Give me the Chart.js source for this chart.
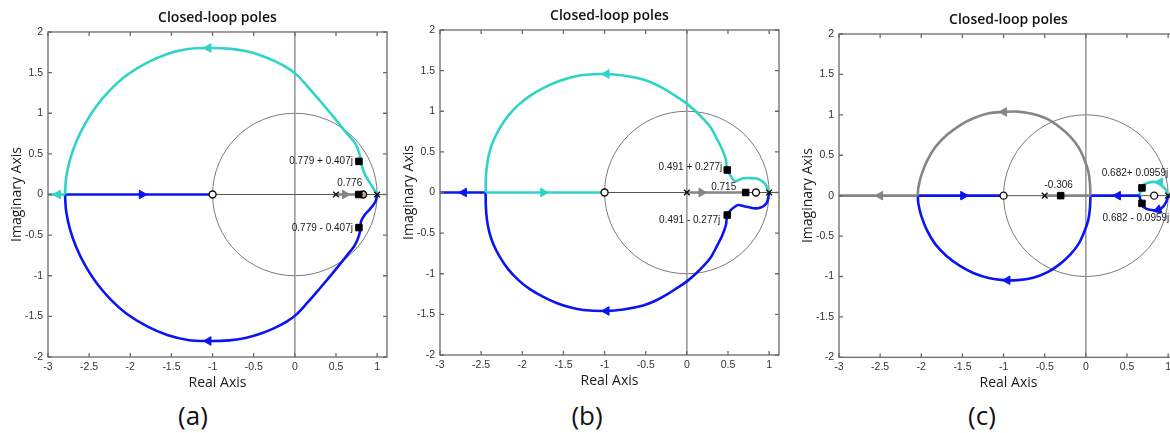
<!DOCTYPE html>
<html>
<head>
<meta charset="utf-8">
<script src="https://cdn.jsdelivr.net/npm/chart.js@4.4.0/dist/chart.umd.min.js"></script>
<style>
  html, body { margin: 0; padding: 0; background: #fff; overflow: hidden; }
  body { width: 1170px; height: 433px; position: relative; }
  canvas { position: absolute; }
  .caption { position: absolute; font-family: 'Open Sans', sans-serif; font-size: 26px; line-height: 1; color: #111; transform: translate(-50%, -50%); }
</style>
</head>
<body>
<canvas id="rl-a" width="395" height="395" style="left:0px;top:0px"></canvas>
<canvas id="rl-b" width="395" height="395" style="left:392px;top:-2px"></canvas>
<canvas id="rl-c" width="395" height="395" style="left:791px;top:2px"></canvas>
<div class="caption" style="left:193px;top:415px">(a)</div>
<div class="caption" style="left:587px;top:415px">(b)</div>
<div class="caption" style="left:982px;top:415px">(c)</div>
<script>
/* global Chart */

const realTicks = [-3, -2.5, -2, -1.5, -1, -0.5, 0, 0.5, 1]
const imagTicks = [-2, -1.5, -1, -0.5, 0, 0.5, 1, 1.5, 2]

// (a) locus branches as [real, imag]
const aCyanArc = [[1, 0], [0.918, 0.134], [0.845, 0.26], [0.805, 0.39], [0.785, 0.5], [0.74, 0.62], [0.634, 0.749], [0.47, 0.955], [0.3, 1.16], [0.15, 1.335], [0.02, 1.475], [-0.1, 1.565], [-0.25, 1.645], [-0.42, 1.715], [-0.6, 1.765], [-0.8, 1.795], [-1.05, 1.803], [-1.3, 1.79], [-1.55, 1.73], [-1.8, 1.62], [-2.04, 1.47], [-2.24, 1.29], [-2.41, 1.09], [-2.55, 0.87], [-2.66, 0.64], [-2.735, 0.42], [-2.78, 0.2], [-2.793, 0]]
const aBlueArc = [[1, 0], [0.979, -0.09], [0.918, -0.174], [0.85, -0.25], [0.805, -0.33], [0.796, -0.44], [0.76, -0.56], [0.715, -0.646], [0.634, -0.749], [0.47, -0.955], [0.3, -1.16], [0.15, -1.335], [0.02, -1.475], [-0.1, -1.565], [-0.25, -1.645], [-0.42, -1.715], [-0.6, -1.765], [-0.8, -1.795], [-1.05, -1.803], [-1.3, -1.79], [-1.55, -1.73], [-1.8, -1.62], [-2.04, -1.47], [-2.24, -1.29], [-2.41, -1.09], [-2.55, -0.87], [-2.66, -0.64], [-2.735, -0.42], [-2.78, -0.2], [-2.793, 0]]
const aCyanReal = [[-2.793, 0], [-3, 0]]
const aBlueReal = [[-2.793, 0], [-1, 0]]
const aGrayReal = [[0.5, 0], [0.83, 0]]
// arrows as [real, imag, heading in degrees]
const aCyanArrows = [[-1.05, 1.803, 270], [-2.88, 0, 270]]
const aBlueArrows = [[-1.05, -1.803, 270], [-1.86, 0, 90]]
const aGrayArrows = [[0.61, 0, 90]]
const aPoles = [[0.5, 0], [1, 0]]
const aZeros = [[-1, 0], [0.83, 0]]
const aPicks = [[0.779, 0.407], [0.776, 0], [0.779, -0.407]]
const aNotes = ['0.779 + 0.407j', '0.776', '0.779 - 0.407j']

// (b)
const bCyanArc = [[1, 0], [0.947, 0.113], [0.87, 0.165], [0.806, 0.175], [0.684, 0.175], [0.604, 0.14], [0.57, 0.15], [0.535, 0.2], [0.491, 0.277], [0.475, 0.4], [0.43, 0.53], [0.37, 0.65], [0.29, 0.8], [0.2, 0.905], [0.117, 0.99], [-0.004, 1.097], [-0.126, 1.18], [-0.25, 1.26], [-0.389, 1.335], [-0.53, 1.39], [-0.773, 1.44], [-0.976, 1.458], [-1.26, 1.446], [-1.421, 1.413], [-1.583, 1.36], [-1.745, 1.285], [-1.907, 1.19], [-2.05, 1.075], [-2.175, 0.94], [-2.275, 0.79], [-2.35, 0.64], [-2.4, 0.49], [-2.43, 0.33], [-2.443, 0.165], [-2.445, 0]]
const bBlueArc = [[1, 0], [0.968, -0.133], [0.866, -0.194], [0.725, -0.175], [0.624, -0.154], [0.584, -0.175], [0.53, -0.22], [0.491, -0.277], [0.475, -0.4], [0.43, -0.53], [0.37, -0.65], [0.29, -0.8], [0.2, -0.905], [0.117, -0.99], [-0.004, -1.097], [-0.126, -1.18], [-0.25, -1.26], [-0.389, -1.335], [-0.53, -1.39], [-0.773, -1.44], [-0.976, -1.458], [-1.26, -1.446], [-1.421, -1.413], [-1.583, -1.36], [-1.745, -1.285], [-1.907, -1.19], [-2.05, -1.075], [-2.175, -0.94], [-2.275, -0.79], [-2.35, -0.64], [-2.4, -0.49], [-2.43, -0.33], [-2.443, -0.165], [-2.445, 0]]
const bCyanReal = [[-2.445, 0], [-1, 0]]
const bBlueReal = [[-2.445, 0], [-3, 0]]
const bGrayReal = [[0, 0], [0.715, 0]]
const bCyanArrows = [[-0.976, 1.458, 270], [-1.745, 0, 90]]
const bBlueArrows = [[-0.976, -1.458, 270], [-2.71, 0, 270]]
const bGrayArrows = [[0.178, 0, 90]]
const bPoles = [[0, 0], [1, 0]]
const bZeros = [[-1, 0], [0.84, 0]]
const bPicks = [[0.491, 0.277], [0.715, 0], [0.491, -0.277]]
const bNotes = ['0.491 + 0.277j', '0.715', '0.491 - 0.277j']

// (c)
const cGrayArc = [[0.056, 0], [0.05, 0.15], [0.03, 0.3], [-0.02, 0.45], [-0.09, 0.6], [-0.19, 0.73], [-0.32, 0.85], [-0.47, 0.95], [-0.64, 1.01], [-0.83, 1.04], [-1.0, 1.035], [-1.18, 1.02], [-1.36, 0.96], [-1.53, 0.87], [-1.69, 0.75], [-1.83, 0.6], [-1.93, 0.43], [-2.0, 0.25], [-2.035, 0.1], [-2.044, 0]]
const cBlueArc = [[0.056, 0], [0.05, -0.15], [0.03, -0.3], [-0.02, -0.45], [-0.09, -0.6], [-0.19, -0.73], [-0.32, -0.85], [-0.47, -0.95], [-0.64, -1.015], [-0.83, -1.045], [-1.0, -1.045], [-1.18, -1.02], [-1.36, -0.96], [-1.53, -0.87], [-1.69, -0.75], [-1.83, -0.6], [-1.93, -0.43], [-2.0, -0.25], [-2.035, -0.1], [-2.044, 0]]
const cGrayReal = [[-0.5, 0], [0.056, 0]]
const cGrayTail = [[-2.044, 0], [-3, 0]]
const cBlueReal = [[0.654, 0], [0.056, 0]]
const cBlueTail = [[-2.044, 0], [-1, 0]]
const cCyanLoop = [[1, 0], [0.98, 0.06], [0.939, 0.11], [0.878, 0.16], [0.82, 0.17], [0.756, 0.16], [0.695, 0.132], [0.682, 0.0959], [0.66, 0.04], [0.654, 0]]
const cBlueLoop = [[1, 0], [0.98, -0.07], [0.939, -0.137], [0.878, -0.175], [0.776, -0.175], [0.695, -0.137], [0.682, -0.0959], [0.66, -0.04], [0.654, 0]]
const cCyanArrows = [[0.9, 0.165, 270]]
const cBlueArrows = [[-0.953, -1.047, 270], [-1.49, 0, 90], [0.39, 0, 270], [0.88, -0.175, 250]]
const cGrayArrows = [[-0.994, 1.035, 270], [-2.5, 0, 270]]
const cPoles = [[-0.5, 0], [1, 0]]
const cZeros = [[-1, 0], [0.83, 0]]
const cPicks = [[0.682, 0.0959], [-0.306, 0], [0.682, -0.0959]]
const cNotes = ['0.682+ 0.0959j', '-0.306', '0.682 - 0.0959j']

const CYAN = '#2fd3c7'
const BLUE = '#0b14f2'
const GRAY = '#858585'
const NARROW = "'Liberation Sans Narrow', 'Liberation Sans', Arial, sans-serif"

Chart.defaults.font.family = "'Open Sans', sans-serif"

const xy = pts => pts.map(p => ({ x: p[0], y: p[1] }))

function branch (pts, color) {
  return { data: xy(pts), showLine: true, borderColor: color, borderWidth: 2.6, pointRadius: 0, tension: 0.35, order: 3 }
}

function arrows (pts, color) {
  return {
    data: xy(pts),
    showLine: false,
    pointStyle: 'triangle',
    pointRotation: pts.map(p => p[2]),
    pointRadius: 5,
    pointBackgroundColor: color,
    pointBorderColor: color,
    pointBorderWidth: 1,
    order: 2
  }
}

// draws the unit circle, origin axes, framed box with inward ticks and the pick labels
const rlocusFrame = {
  id: 'rlocusFrame',
  beforeDatasetsDraw (chart) {
    const { ctx, chartArea: a, scales: { x, y } } = chart
    const x0 = x.getPixelForValue(0)
    const y0 = y.getPixelForValue(0)
    ctx.save()
    ctx.beginPath()
    ctx.rect(a.left, a.top, a.width, a.height)
    ctx.clip()
    ctx.strokeStyle = '#7a7a7a'
    ctx.lineWidth = 1
    ctx.beginPath()
    ctx.ellipse(x0, y0, x.getPixelForValue(1) - x0, y0 - y.getPixelForValue(1), 0, 0, Math.PI * 2)
    ctx.stroke()
    ctx.strokeStyle = '#9a9a9a'
    ctx.lineWidth = 1.6
    ctx.beginPath()
    ctx.moveTo(x0, a.top)
    ctx.lineTo(x0, a.bottom)
    ctx.stroke()
    ctx.strokeStyle = '#555'
    ctx.lineWidth = 1
    ctx.beginPath()
    ctx.moveTo(a.left, y0)
    ctx.lineTo(a.right, y0)
    ctx.stroke()
    ctx.restore()
  },
  afterDatasetsDraw (chart, args, opts) {
    const { ctx, chartArea: a, scales: { x, y } } = chart
    ctx.save()
    ctx.strokeStyle = '#6a6a6a'
    ctx.lineWidth = 1.3
    ctx.strokeRect(a.left, a.top, a.width, a.height)
    ctx.beginPath()
    realTicks.forEach(v => {
      const px = x.getPixelForValue(v)
      ctx.moveTo(px, a.bottom); ctx.lineTo(px, a.bottom - 4)
      ctx.moveTo(px, a.top); ctx.lineTo(px, a.top + 4)
    })
    imagTicks.forEach(v => {
      const py = y.getPixelForValue(v)
      ctx.moveTo(a.left, py); ctx.lineTo(a.left + 4, py)
      ctx.moveTo(a.right, py); ctx.lineTo(a.right - 4, py)
    })
    ctx.stroke()
    ctx.fillStyle = '#1a1a1a'
    ctx.font = `10px ${NARROW}`
    ctx.textBaseline = 'middle'
    opts.picks.forEach((p, i) => {
      const [align, dx, dy] = opts.place[i]
      ctx.textAlign = align
      ctx.fillText(opts.notes[i], x.getPixelForValue(p[0]) + dx, y.getPixelForValue(p[1]) + dy)
    })
    ctx.restore()
  }
}

class RootLocus {
  constructor (elementId, options) {
    this.elementId = elementId
    this.options = Object.assign({ axisHeight: 36, titleGap: 1.6 }, options)
    const el = document.getElementById(this.elementId)
    if (el) {
      this.chart = new Chart(el, this.config())
    } else {
      console.error(`no element found with id - ${this.elementId}`)
    }
  }

  config () {
    const o = this.options
    const tickFont = { family: NARROW, size: 10.5 }
    const axisTitleFont = { family: "'Open Sans', sans-serif", size: 14 }
    return {
      type: 'scatter',
      data: {
        datasets: [
          { data: xy(o.picks), pointStyle: 'rect', pointRadius: 4.6, pointBackgroundColor: '#000', pointBorderColor: '#000', order: 0 },
          { data: xy(o.poles), pointStyle: 'crossRot', pointRadius: 4, pointBorderColor: '#111', pointBorderWidth: 1.4, order: 0 },
          { data: xy(o.zeros), pointStyle: 'circle', pointRadius: 3.5, pointBackgroundColor: o.zeroFill, pointBorderColor: '#111', pointBorderWidth: 1.4, order: 0 },
          ...o.arrows.map(([pts, color]) => arrows(pts, color)),
          ...o.branches.map(([pts, color]) => branch(pts, color))
        ]
      },
      options: {
        responsive: false,
        animation: false,
        events: [],
        layout: { padding: { left: 0, right: 8, top: 0, bottom: 2 } },
        plugins: {
          legend: { display: false },
          tooltip: { enabled: false },
          title: {
            display: true,
            fullSize: false,
            text: 'Closed-loop poles',
            color: '#111',
            font: { size: 14, weight: '600' },
            padding: { top: 9.6, bottom: 5.6 }
          },
          rlocusFrame: { picks: o.picks, notes: o.notes, place: o.place }
        },
        scales: {
          x: {
            type: 'linear',
            min: -3,
            max: 1.12,
            afterBuildTicks: s => { s.ticks = realTicks.map(v => ({ value: v })) },
            afterFit: s => { s.height = o.axisHeight },
            grid: { display: false, drawTicks: false },
            border: { display: false },
            ticks: { padding: 4, color: '#333', font: tickFont, maxRotation: 0, autoSkip: false, callback: v => String(v) },
            title: { display: true, text: 'Real Axis', color: '#1a1a1a', font: axisTitleFont, padding: { top: 0, bottom: o.titleGap } }
          },
          y: {
            type: 'linear',
            min: -2,
            max: 2,
            afterBuildTicks: s => { s.ticks = imagTicks.map(v => ({ value: v })) },
            afterFit: s => { s.width = 48 },
            grid: { display: false, drawTicks: false },
            border: { display: false },
            ticks: { padding: 5, color: '#333', font: tickFont, autoSkip: false, callback: v => String(v) },
            title: { display: true, text: 'Imaginary Axis', color: '#1a1a1a', font: axisTitleFont, padding: { top: 8.3, bottom: 0 } }
          }
        }
      },
      plugins: [rlocusFrame]
    }
  }
}

const panelA = new RootLocus('rl-a', {
  branches: [[aCyanArc, CYAN], [aCyanReal, CYAN], [aBlueArc, BLUE], [aBlueReal, BLUE], [aGrayReal, GRAY]],
  arrows: [[aCyanArrows, CYAN], [aBlueArrows, BLUE], [aGrayArrows, GRAY]],
  poles: aPoles,
  zeros: aZeros,
  zeroFill: ['#ffffff', '#c9a48a'],
  picks: aPicks,
  notes: aNotes,
  place: [['right', -6, 0], ['center', -9, -11], ['right', -6, 1]]
})

const panelB = new RootLocus('rl-b', {
  branches: [[bCyanArc, CYAN], [bCyanReal, CYAN], [bBlueArc, BLUE], [bBlueReal, BLUE], [bGrayReal, GRAY]],
  arrows: [[bCyanArrows, CYAN], [bBlueArrows, BLUE], [bGrayArrows, GRAY]],
  poles: bPoles,
  zeros: bZeros,
  zeroFill: ['#ffffff', '#ffffff'],
  picks: bPicks,
  notes: bNotes,
  place: [['right', -5, -3], ['center', -22, -5], ['right', -7, 5]]
})

const panelC = new RootLocus('rl-c', {
  axisHeight: 37.7,
  titleGap: 3.9,
  branches: [[cGrayArc, GRAY], [cGrayReal, GRAY], [cGrayTail, GRAY], [cBlueArc, BLUE], [cBlueReal, BLUE], [cBlueTail, BLUE], [cCyanLoop, CYAN], [cBlueLoop, BLUE]],
  arrows: [[cCyanArrows, CYAN], [cBlueArrows, BLUE], [cGrayArrows, GRAY]],
  poles: cPoles,
  zeros: cZeros,
  zeroFill: ['#ffffff', '#ffffff'],
  picks: cPicks,
  notes: cNotes,
  place: [['center', -7, -15], ['center', -2, -10], ['center', -6, 15]]
})
</script>
</body>
</html>
